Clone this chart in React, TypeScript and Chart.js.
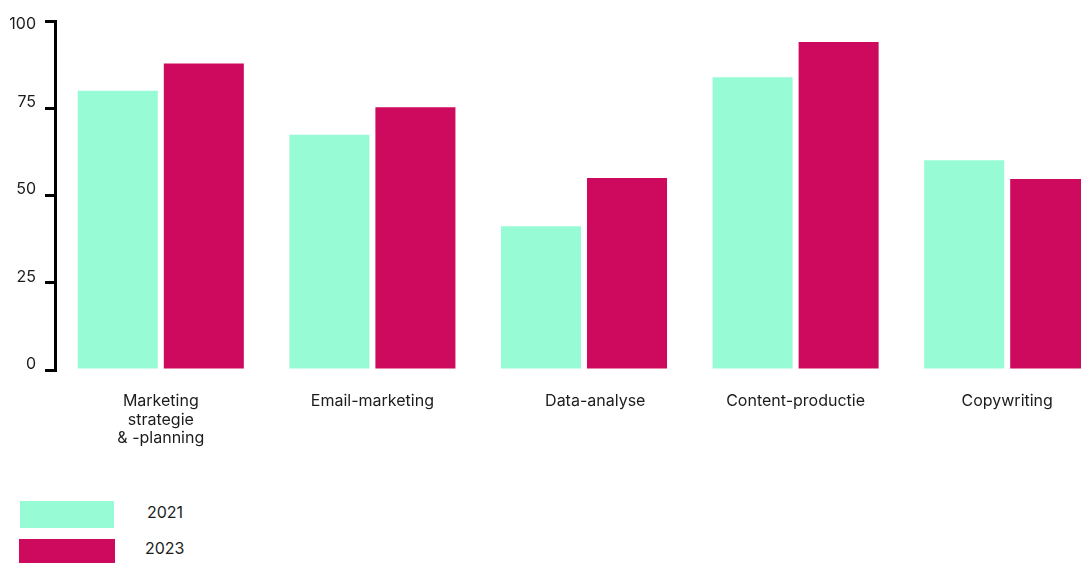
import React, { useEffect, useRef } from 'react';
import { Chart, registerables } from 'chart.js';

Chart.register(...registerables);

const categories: (string | string[])[] = [
  ['Marketing', 'strategie', '& -planning'],
  'Email-marketing',
  '     Data-analyse',
  'Content-productie',
  'Copywriting',
];
const values2021 = [80, 67.4, 41.2, 83.9, 60.1];
const values2023 = [87.8, 75.3, 55, 94, 54.7];
const yTicks = [0, 25, 50, 75, 100];
const seriesLabels = ['2021', '2023'];
const seriesColors = ['#97fcd6', '#ce0a5f'];

const FONT = 'Inter, "Noto Sans", sans-serif';
const TEXT = '#1c1c1c';

export default function App() {
  const ref = useRef<HTMLCanvasElement | null>(null);

  useEffect(() => {
    if (!ref.current) return;
    const chart = new Chart(ref.current, {
      type: 'bar',
      data: {
        labels: categories,
        datasets: [
          {
            label: seriesLabels[0],
            data: values2021,
            backgroundColor: seriesColors[0],
            borderWidth: 0,
            categoryPercentage: 0.8132,
            barPercentage: 0.9302,
          },
          {
            label: seriesLabels[1],
            data: values2023,
            backgroundColor: seriesColors[1],
            borderWidth: 0,
            categoryPercentage: 0.8132,
            barPercentage: 0.9302,
          },
        ],
      },
      options: {
        responsive: false,
        animation: false,
        layout: { padding: { top: 21, right: 1, left: 0, bottom: 0 } },
        plugins: {
          legend: { display: false },
          tooltip: { enabled: false },
        },
        scales: {
          x: {
            grid: { display: false, drawTicks: false },
            border: { display: false },
            ticks: {
              font: { family: FONT, size: 16, lineHeight: 1.16 },
              color: TEXT,
              padding: 22,
              maxRotation: 0,
              autoSkip: false,
            },
            afterFit: (s: any) => {
              s.height = 100;
            },
          },
          y: {
            min: 0,
            max: 100,
            afterBuildTicks: (s: any) => {
              s.ticks = yTicks.map((v) => ({ value: v }));
            },
            ticks: {
              stepSize: 25,
              font: { family: FONT, size: 16, lineHeight: 1.15 },
              color: TEXT,
              padding: 9,
              labelOffset: -6,
              callback: (v: any) => (Number(v) === 100 ? ['', '100'] : String(v)),
            },
            grid: {
              display: true,
              drawOnChartArea: false,
              drawTicks: true,
              tickLength: 10,
              lineWidth: 3,
              color: '#000',
            },
            border: { display: true, color: '#000', width: 3 },
            afterFit: (s: any) => {
              s.width = 55;
              s.paddingTop = 0;
              s.paddingBottom = 0;
            },
          },
        },
      },
    });
    return () => chart.destroy();
  }, []);

  const legendTops = [501, 539];
  return (
    <div
      style={{
        position: 'fixed',
        left: 0,
        top: 0,
        width: 1081,
        height: 563,
        overflow: 'hidden',
        background: '#fff',
      }}
    >
      <canvas ref={ref} width={1114} height={470} style={{ display: 'block' }} />
      {seriesLabels.map((lab, i) => (
        <div key={lab}>
          <div
            style={{
              position: 'absolute',
              left: i === 0 ? 20 : 19,
              top: legendTops[i],
              width: i === 0 ? 94 : 96,
              height: i === 0 ? 27 : 25,
              background: seriesColors[i],
            }}
          />
          <div
            style={{
              position: 'absolute',
              left: i === 0 ? 147 : 145,
              top: legendTops[i] + (i === 0 ? 11 : 9) - 10,
              height: 20,
              lineHeight: '20px',
              fontFamily: FONT,
              fontSize: 16,
              color: TEXT,
            }}
          >
            {lab}
          </div>
        </div>
      ))}
    </div>
  );
}
